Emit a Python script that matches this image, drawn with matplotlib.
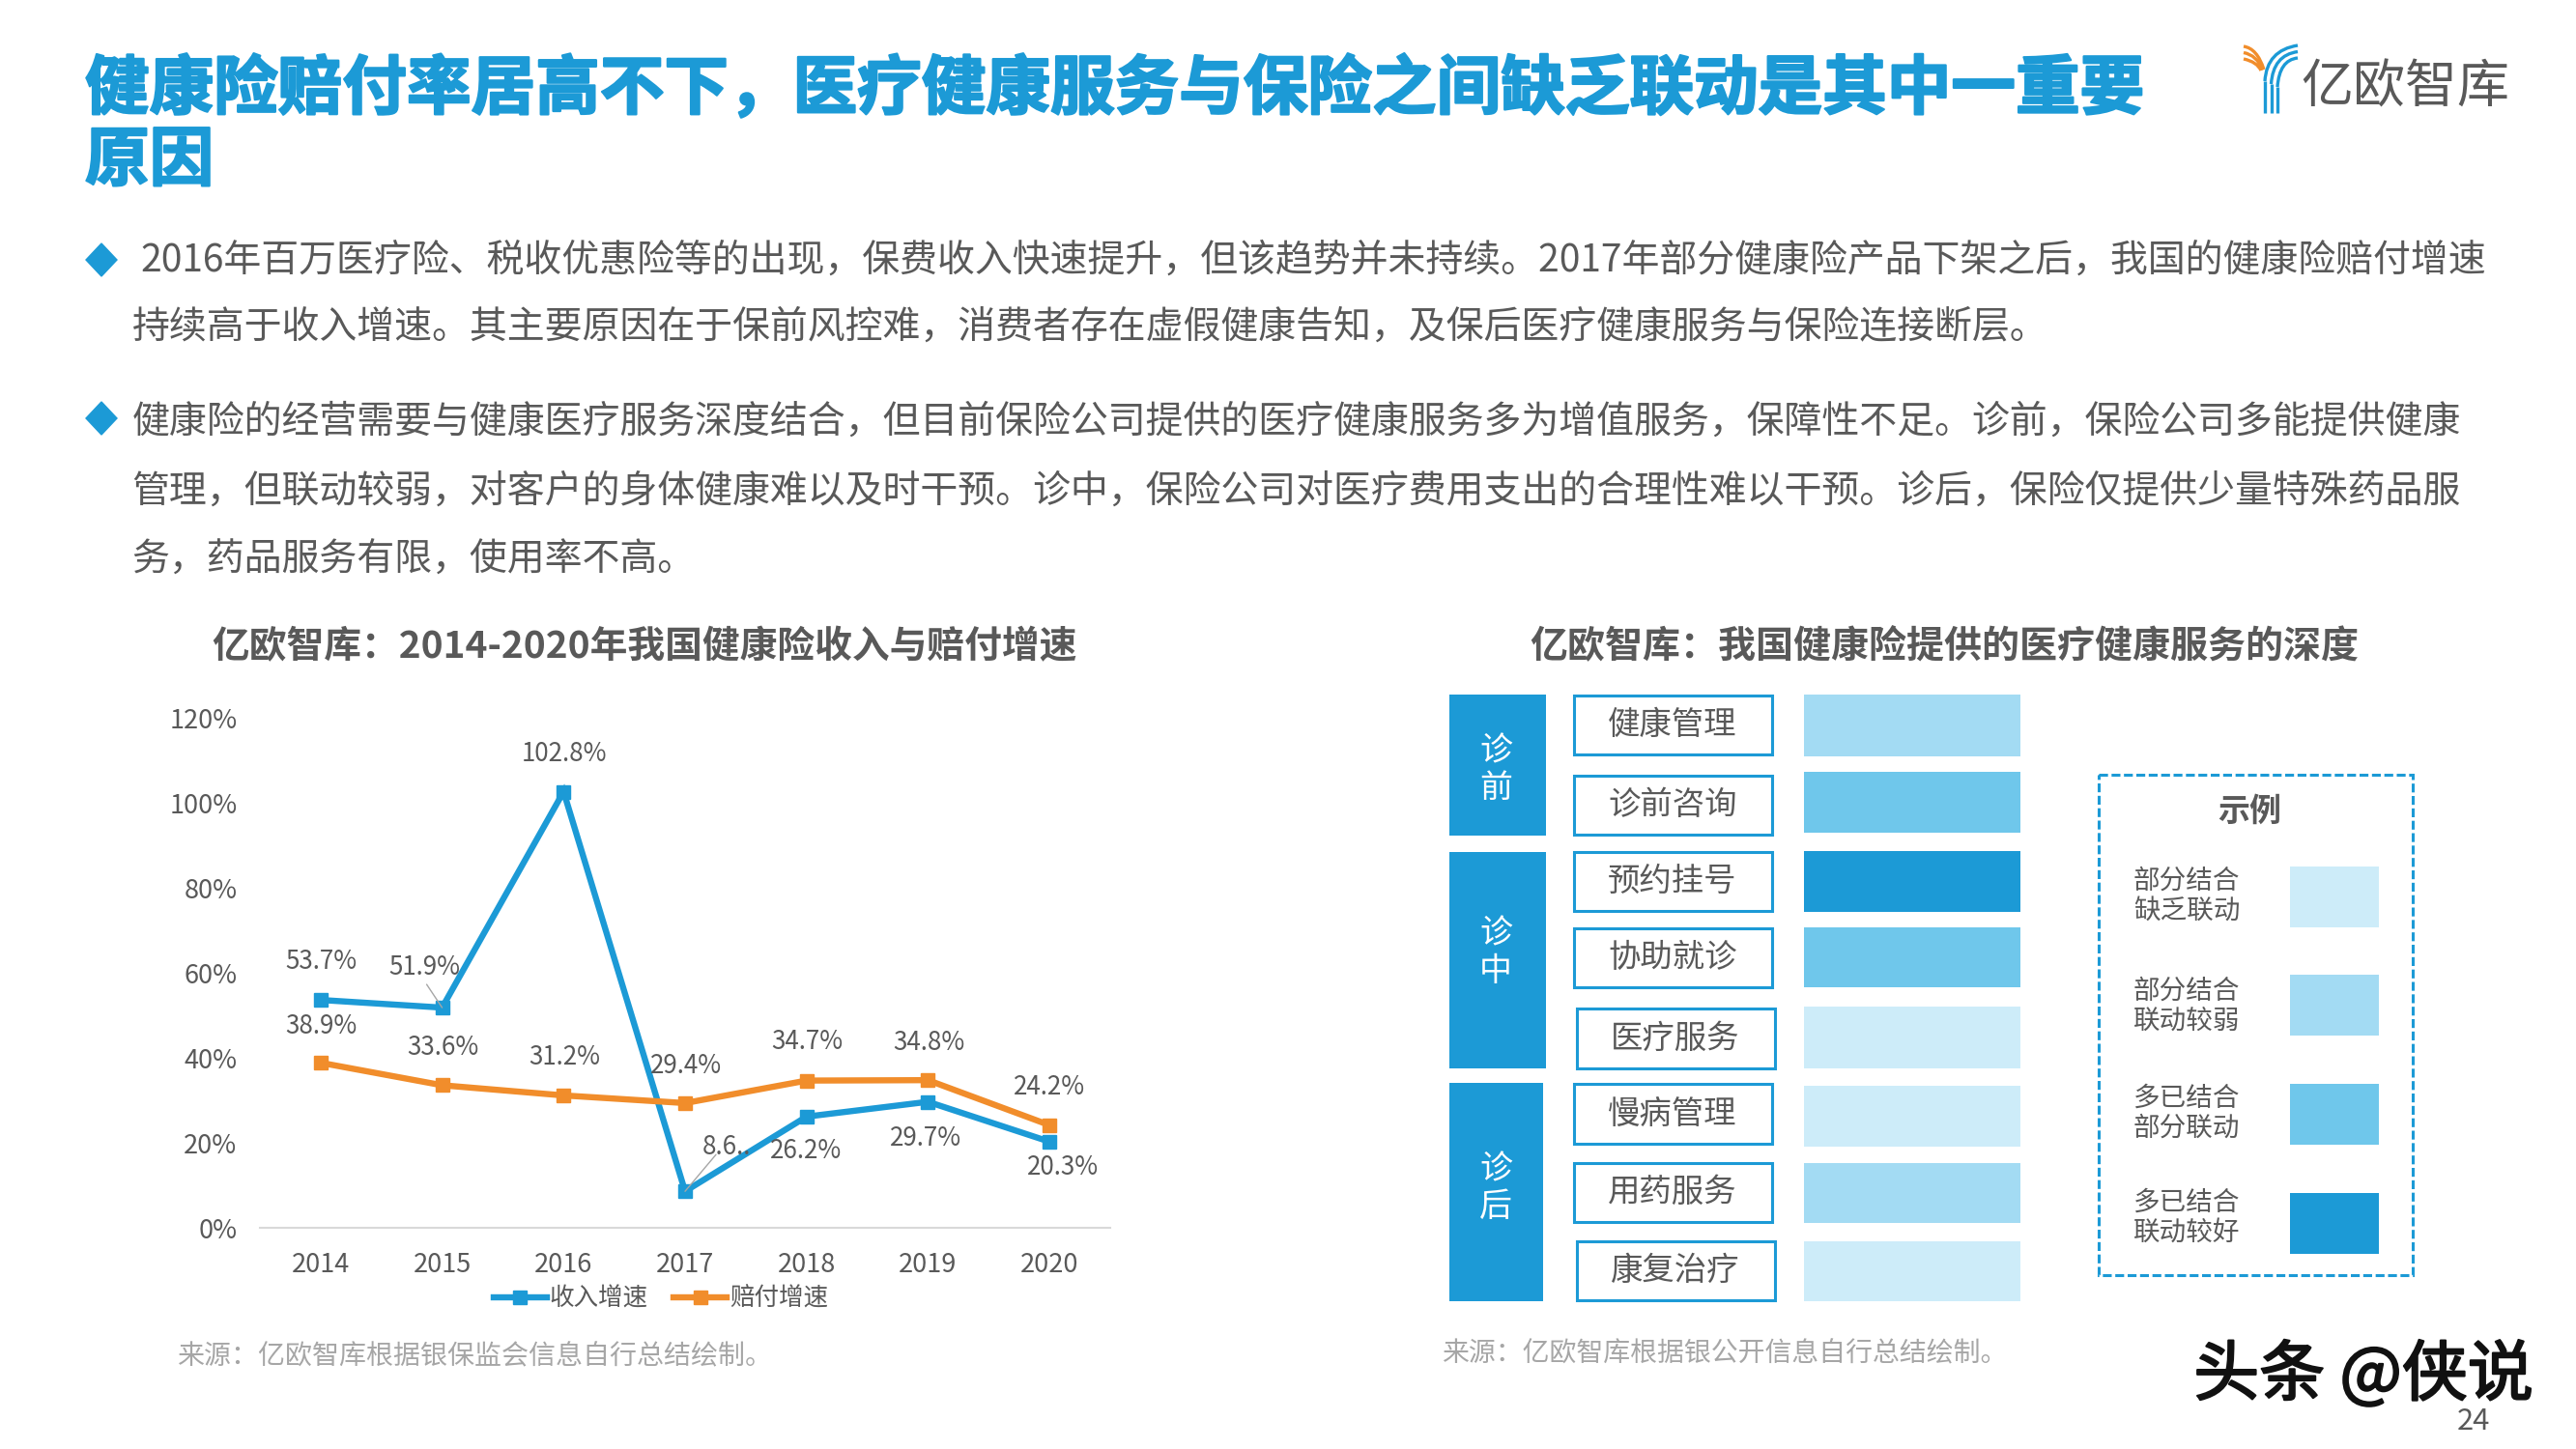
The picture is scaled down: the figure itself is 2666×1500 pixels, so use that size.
import matplotlib
matplotlib.use('Agg')
import matplotlib.pyplot as plt
from matplotlib.patches import Rectangle, Polygon, PathPatch
from matplotlib.path import Path
import matplotlib.patheffects as pe

W, H = 2666, 1500
CJK = ['Noto Sans CJK SC', 'DejaVu Sans']
plt.rcParams['font.family'] = CJK

BLUE = '#1C9AD6'
ORANGE = '#F18D2B'
GREY = '#595959'
SRC = '#A6A6A6'

title_lines = ['健康险赔付率居高不下，医疗健康服务与保险之间缺乏联动是其中一重要', '原因']
body_lines = [
    '2016年百万医疗险、税收优惠险等的出现，保费收入快速提升，但该趋势并未持续。2017年部分健康险产品下架之后，我国的健康险赔付增速',
    '持续高于收入增速。其主要原因在于保前风控难，消费者存在虚假健康告知，及保后医疗健康服务与保险连接断层。',
    '健康险的经营需要与健康医疗服务深度结合，但目前保险公司提供的医疗健康服务多为增值服务，保障性不足。诊前，保险公司多能提供健康',
    '管理，但联动较弱，对客户的身体健康难以及时干预。诊中，保险公司对医疗费用支出的合理性难以干预。诊后，保险仅提供少量特殊药品服',
    '务，药品服务有限，使用率不高。',
]
years = ['2014', '2015', '2016', '2017', '2018', '2019', '2020']
income = [53.7, 51.9, 102.8, 8.6, 26.2, 29.7, 20.3]
payout = [38.9, 33.6, 31.2, 29.4, 34.7, 34.8, 24.2]
income_labels = ['53.7%', '51.9%', '102.8%', '8.6..', '26.2%', '29.7%', '20.3%']
payout_labels = ['38.9%', '33.6%', '31.2%', '29.4%', '34.7%', '34.8%', '24.2%']
yticks = [0, 20, 40, 60, 80, 100, 120]
services = ['健康管理', '诊前咨询', '预约挂号', '协助就诊', '医疗服务', '慢病管理', '用药服务', '康复治疗']
levels = [1, 2, 3, 2, 0, 0, 1, 0]
level_colors = ['#CDECF9', '#A3DBF3', '#6FC7EB', '#1C9AD6']
level_labels = ['部分结合\n缺乏联动', '部分结合\n联动较弱', '多已结合\n部分联动', '多已结合\n联动较好']
stages = ['诊\n前', '诊\n中', '诊\n后']

fig = plt.figure(figsize=(W / 100, H / 100), dpi=100, facecolor='white')
bg = fig.add_axes([0, 0, 1, 1])
bg.set_xlim(0, W)
bg.set_ylim(H, 0)
bg.axis('off')

def T(x, y, s, px, color=GREY, ha='center', va='center', weight='normal', **kw):
    return bg.text(x, y, s, fontsize=px * 0.72, color=color, ha=ha, va=va, fontweight=weight, **kw)

# header
fat = [pe.withStroke(linewidth=1.6, foreground=BLUE)]
T(88, 93, title_lines[0], 66.6, BLUE, ha='left', weight='bold', path_effects=fat)
T(88, 167, title_lines[1], 66.6, BLUE, ha='left', weight='bold', path_effects=fat)

# logo
def curve(p0, p1, p2, c, lw=2.4):
    bg.add_patch(PathPatch(Path([p0, p1, p2], [Path.MOVETO, Path.CURVE3, Path.CURVE3]),
                           facecolor='none', edgecolor=c, lw=lw, capstyle='butt'))
for i in range(3):
    curve((2322, 48 + i * 6.5), (2336, 50 + i * 7), (2343 - i * 1.5, 72 + i * 0.5), ORANGE)
for i in range(3):
    sx = 2344 + i * 6.5
    bg.plot([sx, sx], [117, 84 + i * 3], color=BLUE, lw=2.4, solid_capstyle='butt')
    curve((sx, 84 + i * 3), (sx + 2, 52 + i * 5), (2378, 47 + i * 6.5), BLUE)
T(2489, 91, '亿欧智库', 54, GREY, weight='light')

# body
bx = [145, 136.5, 136.5, 136.5, 136.5]
by = [270, 339, 437, 509, 580]
for x, y, s in zip(bx, by, body_lines):
    T(x, y, s, 38.95, GREY, ha='left')
for y in (269, 433):
    bg.add_patch(Polygon([(105, y - 17), (121, y), (105, y + 17), (89, y)], closed=True, color=BLUE))

# chart titles
T(667, 670, '亿欧智库：2014-2020年我国健康险收入与赔付增速', 38.8, GREY, weight='bold')
T(2012, 670, '亿欧智库：我国健康险提供的医疗健康服务的深度', 39, GREY, weight='bold')

# line chart
ax = fig.add_axes([269 / W, 1 - 1271 / H, 880 / W, 527 / H])
ax.patch.set_alpha(0)
x = list(range(len(years)))
l1, = ax.plot(x, income, color=BLUE, lw=4.6, marker='s', ms=9.5, label='收入增速', solid_joinstyle='miter')
l2, = ax.plot(x, payout, color=ORANGE, lw=4.6, marker='s', ms=9.5, label='赔付增速', solid_joinstyle='miter')
ax.set_xlim(-0.5, 6.5)
ax.set_ylim(0, 120)
ax.set_xticks(x, years)
ax.set_yticks(yticks, [f'{v}%' for v in yticks])
for s in ('top', 'left', 'right'):
    ax.spines[s].set_visible(False)
ax.spines['bottom'].set_color('#D9D9D9')
ax.spines['bottom'].set_linewidth(1.5)
ax.tick_params(axis='both', length=0, labelsize=19.5, labelcolor=GREY)
ax.tick_params(axis='x', pad=18)
ax.tick_params(axis='y', pad=17)
income_off = [(1, 40), (-18, 42), (1, 39), (43, 46), (-1, -36), (-2, -38), (14, -27)]
payout_off = [(1, 38), (1, 39), (1, 39), (1, 38), (1, 40), (1, 39), (0, 39)]
for xs, ys, labs, offs in ((x, income, income_labels, income_off), (x, payout, payout_labels, payout_off)):
    for a, b, s, o in zip(xs, ys, labs, offs):
        ax.annotate(s, (a, b), xytext=o, textcoords='offset pixels', ha='center', va='center',
                    fontsize=18.7, color=GREY)
ax.annotate('', (1, income[1]), xytext=(-16, 24), textcoords='offset pixels',
            arrowprops=dict(arrowstyle='-', color='#A6A6A6', lw=1, shrinkA=0, shrinkB=0))
ax.annotate('', (3, income[3]), xytext=(32, 38), textcoords='offset pixels',
            arrowprops=dict(arrowstyle='-', color='#A6A6A6', lw=1, shrinkA=0, shrinkB=0))
ax.legend(handles=[l1, l2], ncol=2, frameon=False, loc='center', bbox_to_anchor=(684 / W, 1 - 1345 / H),
          bbox_transform=fig.transFigure, fontsize=18.4, labelcolor=GREY, handlelength=2.15,
          handletextpad=0.12, columnspacing=1.05, markerscale=1.0)

T(183, 1404, '来源：亿欧智库根据银保监会信息自行总结绘制。', 28, SRC, ha='left')
T(1492, 1401, '来源：亿欧智库根据银公开信息自行总结绘制。', 27.9, SRC, ha='left')

# service diagram
stage_boxes = [(1500, 719, 100, 146), (1500, 882, 100, 224), (1500, 1121, 97, 226)]
stage_shift = [5, -8, -4]
for (bx0, by0, bw, bh), s, d in zip(stage_boxes, stages, stage_shift):
    bg.add_patch(Rectangle((bx0, by0), bw, bh, color=BLUE, lw=0))
    T(bx0 + 48, by0 + bh / 2 + d, s, 34, 'white', linespacing=1.15)

svc_boxes = [(1629, 720, 61), (1629, 803, 61), (1629, 882, 61), (1629, 961, 61),
             (1632, 1044, 62), (1629, 1122, 62), (1629, 1204, 61), (1632, 1285, 61)]
bar_boxes = [(719, 64), (799, 63), (881, 63), (960, 62), (1042, 64), (1124, 63), (1204, 62), (1285, 62)]
for (sx, sy, sh), s, (by0, bh), lv in zip(svc_boxes, services, bar_boxes, levels):
    bg.add_patch(Rectangle((sx, sy), 205, sh, facecolor='white', edgecolor=BLUE, lw=2.2))
    T(sx + 102, sy + sh / 2, s, 33.4, GREY)
    bg.add_patch(Rectangle((1867, by0), 224, bh, color=level_colors[lv], lw=0))

# key
bg.add_patch(Rectangle((2172, 802), 325, 518, facecolor='none', edgecolor=BLUE, lw=2.2, linestyle=(0, (3, 1.2))))
T(2328, 840, '示例', 33, GREY, weight='bold')
swatch_y = [897, 1009, 1122, 1235]
label_y = [928, 1042, 1153, 1261]
for yy, ly, c, s in zip(swatch_y, label_y, level_colors, level_labels):
    bg.add_patch(Rectangle((2370, yy), 92, 63, color=c, lw=0))
    T(2263, ly, s, 27.6, GREY, linespacing=1.2)

# watermark, page number
T(2446, 1425, '头条 @侠说', 68, '#111111', weight='normal',
  path_effects=[pe.withStroke(linewidth=1.5, foreground='#111111')])
T(2560, 1471, '24', 31, GREY)

fig.savefig('out.png', dpi=100)
